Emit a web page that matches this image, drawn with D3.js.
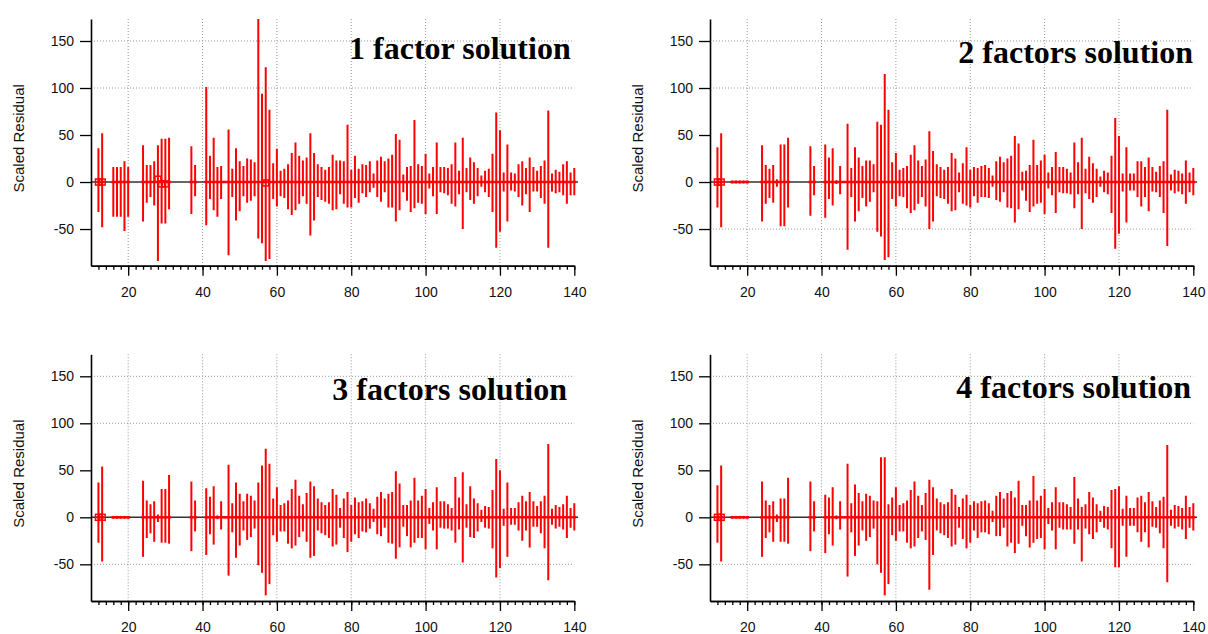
<!DOCTYPE html>
<html>
<head>
<meta charset="utf-8">
<script src="https://cdn.jsdelivr.net/npm/d3@7"></script>
<style>
  body { margin: 0; background: #fff; }
  text { font-family: "Liberation Sans", Arial, sans-serif; }
</style>
</head>
<body>
<div id="chart"></div>
<script>
// m/z positions that carry residuals
var mzValues = [12, 13, 16, 17, 18, 19, 20, 24, 25, 26, 27, 28, 29, 30, 31, 37, 38,
    41, 42, 43, 44, 45, 46, 47, 48, 49, 50, 51, 52, 53, 54, 55, 56, 57, 58, 59, 60,
    61, 62, 63, 64, 65, 66, 67, 68, 69, 70, 71, 72, 73, 74, 75, 76, 77, 78, 79, 80,
    81, 82, 83, 84, 85, 86, 87, 88, 89, 90, 91, 92, 93, 94, 95, 96, 97, 98, 99, 100,
    101, 102, 103, 104, 105, 106, 107, 108, 109, 110, 111, 112, 113, 114, 115, 116, 117, 118, 119, 120,
    121, 122, 123, 124, 125, 126, 127, 128, 129, 130, 131, 132, 133, 134, 135, 136, 137, 138, 139, 140];

var titles = ['1 factor solution', '2 factors solution', '3 factors solution', '4 factors solution'];

// max / min scaled residual for every m/z, one pair of arrays per solution
var maxOne = [36, 52, 16, 16, 16, 22, 16, 39, 18, 18, 22, 39, 46, 46, 47, 38, 18,
    101, 28, 47, 16, 17, 1, 56, 14, 36, 22,
    17, 25, 24, 21, 177, 94, 122, 77, 20, 35,
    12, 14, 19, 31, 42, 28, 23, 26, 52, 31,
    19, 16, 13, 16, 29, 23, 23, 22, 61, 13,
    28, 14, 19, 18, 22, 9, 23, 27, 22, 25,
    29, 51, 45, 8, 16, 17, 66, 19, 17, 30,
    9, 16, 42, 16, 16, 15, 19, 42, 12, 47,
    15, 26, 21, 15, 7, 12, 14, 30, 74, 55,
    10, 40, 10, 9, 19, 22, 15, 26, 16, 12,
    17, 23, 76, 9, 13, 11, 19, 22, 10, 15];
var minOne = [-32, -48, -37, -37, -37, -52, -37, -42, -22, -16, -25, -84, -44, -44, -29, -34, -15,
    -46, -18, -30, -37, -18, -1, -78, -16, -41, -31,
    -15, -22, -20, -15, -60, -65, -84, -82, -18, -26,
    -15, -17, -29, -35, -30, -23, -15, -23, -57, -41,
    -16, -19, -21, -23, -30, -29, -13, -23, -27, -27,
    -17, -22, -12, -16, -11, -6, -16, -21, -11, -27,
    -27, -42, -30, -11, -20, -32, -28, -22, -23, -34,
    -7, -15, -34, -11, -12, -14, -23, -26, -13, -50,
    -11, -19, -23, -15, -5, -11, -16, -32, -70, -53,
    -10, -42, -9, -10, -16, -25, -13, -32, -10, -10,
    -17, -23, -70, -10, -12, -11, -14, -23, -14, -14];

var maxTwo = [37, 52, 1.5, 1.5, 1.5, 1.5, 1.5, 39, 18, 14, 18, 3, 40, 40, 47, 38, 17,
    40, 26, 36, 2, 17, 1, 62, 15, 37, 26,
    17, 23, 23, 19, 64, 61, 115, 77, 21, 31,
    13, 15, 17, 29, 39, 23, 17, 24, 54, 33,
    19, 16, 13, 16, 31, 25, 10, 20, 37, 13,
    16, 15, 17, 18, 15, 7, 22, 27, 21, 25,
    28, 49, 41, 11, 12, 18, 45, 18, 23, 29,
    10, 16, 32, 16, 16, 14, 10, 42, 21, 47,
    14, 27, 20, 14, 6, 12, 10, 28, 68, 49,
    9, 37, 9, 9, 22, 22, 16, 26, 16, 11,
    17, 22, 77, 8, 13, 12, 9, 23, 10, 15];
var minTwo = [-27, -48, -1.5, -1.5, -1.5, -1.5, -1.5, -42, -23, -17, -22, -5, -47, -47, -27, -36, -14,
    -38, -18, -25, -2, -13, -1, -72, -16, -42, -31,
    -17, -26, -21, -11, -53, -58, -83, -80, -18, -26,
    -15, -16, -28, -33, -30, -23, -16, -26, -50, -42,
    -15, -17, -18, -23, -31, -30, -11, -23, -25, -27,
    -15, -22, -16, -16, -17, -5, -19, -21, -11, -27,
    -28, -43, -29, -9, -20, -32, -26, -23, -22, -34,
    -7, -14, -33, -11, -12, -12, -13, -28, -13, -50,
    -12, -18, -22, -16, -5, -11, -13, -33, -71, -55,
    -10, -43, -9, -9, -16, -26, -16, -31, -10, -11,
    -16, -33, -68, -9, -12, -10, -13, -23, -11, -14];

var maxThree = [37, 54, 1.5, 1.5, 1.5, 1.5, 1.5, 39, 18, 14, 17, 3, 30, 30, 45, 38, 18,
    31, 22, 33, 2, 17, 1, 56, 15, 37, 25,
    17, 25, 23, 18, 37, 55, 73, 57, 20, 32,
    13, 15, 18, 30, 40, 23, 14, 26, 38, 33,
    20, 16, 13, 16, 30, 24, 10, 20, 27, 13,
    21, 16, 17, 20, 15, 9, 22, 27, 20, 25,
    27, 49, 36, 13, 13, 18, 42, 18, 23, 30,
    10, 16, 32, 17, 17, 14, 10, 43, 21, 48,
    14, 33, 20, 15, 8, 12, 11, 29, 62, 50,
    9, 37, 10, 10, 16, 23, 17, 27, 17, 12,
    17, 23, 78, 9, 13, 11, 14, 23, 10, 15];
var minThree = [-27, -47, -1.5, -1.5, -1.5, -1.5, -1.5, -42, -22, -17, -26, -5, -27, -27, -28, -36, -15,
    -40, -18, -29, -2, -13, -1, -62, -16, -43, -30,
    -14, -24, -21, -12, -51, -59, -83, -71, -19, -26,
    -15, -15, -28, -33, -30, -21, -15, -26, -43, -41,
    -14, -17, -19, -22, -31, -29, -11, -22, -37, -26,
    -18, -22, -15, -16, -12, -5, -18, -20, -11, -27,
    -28, -44, -32, -10, -20, -32, -27, -22, -22, -34,
    -7, -14, -34, -11, -12, -12, -14, -27, -13, -48,
    -11, -21, -22, -15, -5, -11, -12, -33, -64, -54,
    -9, -42, -8, -8, -14, -25, -14, -32, -10, -10,
    -17, -33, -67, -8, -12, -10, -13, -22, -11, -14];

var maxFour = [34, 55, 1.5, 1.5, 1.5, 1.5, 1.5, 38, 18, 13, 17, 3, 20, 20, 42, 38, 17,
    24, 21, 32, 2, 17, 1, 57, 15, 35, 26,
    17, 25, 23, 18, 17, 64, 64, 14, 21, 32,
    13, 15, 18, 29, 38, 23, 13, 26, 40, 32,
    20, 16, 14, 16, 30, 24, 11, 20, 24, 13,
    17, 15, 17, 18, 15, 7, 23, 27, 20, 26,
    28, 21, 39, 13, 13, 18, 44, 18, 23, 30,
    10, 16, 32, 16, 16, 14, 11, 43, 20, 11,
    14, 27, 21, 14, 7, 12, 11, 29, 30, 33,
    9, 23, 10, 10, 21, 23, 16, 27, 17, 11,
    18, 22, 77, 8, 13, 12, 10, 23, 11, 15];
var minFour = [-27, -47, -1.5, -1.5, -1.5, -1.5, -1.5, -42, -22, -16, -26, -5, -26, -26, -28, -36, -15,
    -38, -18, -30, -2, -13, -1, -63, -16, -41, -30,
    -14, -25, -21, -12, -50, -59, -83, -71, -19, -25,
    -15, -15, -27, -33, -31, -22, -15, -24, -77, -40,
    -14, -17, -19, -22, -31, -29, -11, -23, -33, -27,
    -14, -22, -16, -16, -18, -5, -20, -20, -11, -31,
    -27, -38, -28, -9, -20, -32, -27, -23, -22, -34,
    -7, -14, -34, -11, -13, -13, -13, -28, -13, -47,
    -12, -18, -23, -16, -5, -11, -13, -33, -53, -53,
    -9, -42, -9, -9, -16, -26, -16, -32, -10, -11,
    -17, -33, -69, -9, -12, -10, -13, -23, -11, -14];

// hollow square markers near zero: [m/z, value]
var markersOne = [[12, 0], [13, 0], [28, 3], [29, -2], [30, -2], [57, -1]];
var markersOther = [[12, 0], [13, 0]];

// axis ticks
var xMajorTicks = [20, 40, 60, 80, 100, 120, 140];
var xMinorTicks = d3.range(12, 141, 2);
var yTicks = [-50, 0, 50, 100, 150];

var width = 1208, height = 634;
var plotW = 483.3, plotH = 246.7;

var panels = [
    {title: titles[0], max: maxOne, min: minOne, markers: markersOne, left: 91, top: 19, tx: 479.7, ty: 40, hGrid: [100, 150]},
    {title: titles[1], max: maxTwo, min: minTwo, markers: markersOther, left: 710, top: 19, tx: 483, ty: 44, hGrid: [-50, 100, 150]},
    {title: titles[2], max: maxThree, min: minThree, markers: markersOther, left: 91, top: 354.3, tx: 476, ty: 45.5, hGrid: [-50, 100, 150]},
    {title: titles[3], max: maxFour, min: minFour, markers: markersOther, left: 710, top: 354.3, tx: 481, ty: 44, hGrid: [-50, 100, 150]}
];

var svg = d3.select('#chart')
    .append('svg')
    .attr('width', width)
    .attr('height', height)
    .style('background', '#fff');

svg.append('defs').append('clipPath')
    .attr('id', 'plot-clip')
    .append('rect')
    .attr('x', -2).attr('y', 0)
    .attr('width', plotW + 6).attr('height', plotH);

var x = d3.scaleLinear().domain([10, 140]).range([0, plotW]);
var y = d3.scaleLinear().domain([-89, 173.4]).range([plotH, 0]);

panels.forEach(function (p) {
    var rows = mzValues.map(function (m, i) {
        return {mz: m, max: p.max[i], min: p.min[i]};
    });

    var g = svg.append('g')
        .attr('transform', 'translate(' + p.left + ',' + p.top + ')');

    // dotted grid
    g.selectAll('.vgrid')
        .data(xMajorTicks.filter(function (d) { return d < 140; }))
        .enter().append('line')
        .attr('class', 'vgrid')
        .attr('x1', function (d) { return x(d); })
        .attr('x2', function (d) { return x(d); })
        .attr('y1', 0).attr('y2', plotH)
        .attr('stroke', '#999').attr('stroke-width', 1)
        .attr('stroke-dasharray', '1,2');

    g.selectAll('.hgrid')
        .data(p.hGrid)
        .enter().append('line')
        .attr('class', 'hgrid')
        .attr('x1', 0).attr('x2', plotW)
        .attr('y1', function (d) { return y(d); })
        .attr('y2', function (d) { return y(d); })
        .attr('stroke', '#999').attr('stroke-width', 1)
        .attr('stroke-dasharray', '1,2');

    var plot = g.append('g').attr('clip-path', 'url(#plot-clip)');

    // zero line
    plot.append('line')
        .attr('x1', 0).attr('x2', plotW + 4)
        .attr('y1', y(0)).attr('y2', y(0))
        .attr('stroke', '#333').attr('stroke-width', 1.5);

    // red band of near-zero residuals at each m/z
    plot.selectAll('.band')
        .data(rows)
        .enter().append('line')
        .attr('class', 'band')
        .attr('x1', function (d) { return x(d.mz - 0.5); })
        .attr('x2', function (d) { return x(d.mz + 0.5); })
        .attr('y1', y(0)).attr('y2', y(0))
        .attr('stroke', '#ff0000').attr('stroke-width', 2.5);

    // min-max sticks
    plot.selectAll('.stick')
        .data(rows)
        .enter().append('line')
        .attr('class', 'stick')
        .attr('x1', function (d) { return x(d.mz); })
        .attr('x2', function (d) { return x(d.mz); })
        .attr('y1', function (d) { return y(d.min); })
        .attr('y2', function (d) { return y(d.max); })
        .attr('stroke', '#ff0000').attr('stroke-width', 2);

    plot.selectAll('.marker')
        .data(p.markers)
        .enter().append('rect')
        .attr('class', 'marker')
        .attr('x', function (d) { return x(d[0]) - 3; })
        .attr('y', function (d) { return y(d[1]) - 3; })
        .attr('width', 6).attr('height', 6)
        .attr('fill', 'none')
        .attr('stroke', '#ff0000').attr('stroke-width', 1.5);

    // axes
    var minorAxis = g.append('g')
        .attr('transform', 'translate(0,' + plotH + ')')
        .call(d3.axisBottom(x).tickValues(xMinorTicks).tickSize(4).tickSizeOuter(0).tickFormat(''));
    var majorAxis = g.append('g')
        .attr('transform', 'translate(0,' + plotH + ')')
        .call(d3.axisBottom(x).tickValues(xMajorTicks).tickSize(10).tickSizeOuter(0).tickPadding(11)
            .tickFormat(function (d) { return String(d); }));
    var leftAxis = g.append('g')
        .call(d3.axisLeft(y).tickValues(yTicks).tickSize(11).tickSizeOuter(0).tickPadding(6)
            .tickFormat(function (d) { return String(d); }));

    [minorAxis, majorAxis, leftAxis].forEach(function (a) {
        a.select('.domain').attr('stroke', '#000').attr('stroke-width', 1.6);
        a.selectAll('.tick line').attr('stroke', '#000').attr('stroke-width', 1.3);
        a.selectAll('.tick text')
            .attr('fill', '#111')
            .style('font-size', '14px')
            .style('font-family', '"Liberation Sans", Arial, sans-serif');
    });

    // y title
    g.append('text')
        .attr('transform', 'translate(-67,' + (plotH / 2 - 4) + ') rotate(-90)')
        .attr('text-anchor', 'middle')
        .style('font-size', '15px')
        .attr('fill', '#111')
        .text('Scaled Residual');

    // panel title
    g.append('text')
        .attr('x', p.tx)
        .attr('y', p.ty)
        .attr('text-anchor', 'end')
        .style('font-family', '"Liberation Serif", "Times New Roman", serif')
        .style('font-weight', 'bold')
        .style('font-size', '32px')
        .attr('fill', '#000')
        .text(p.title);
});
</script>
</body>
</html>
